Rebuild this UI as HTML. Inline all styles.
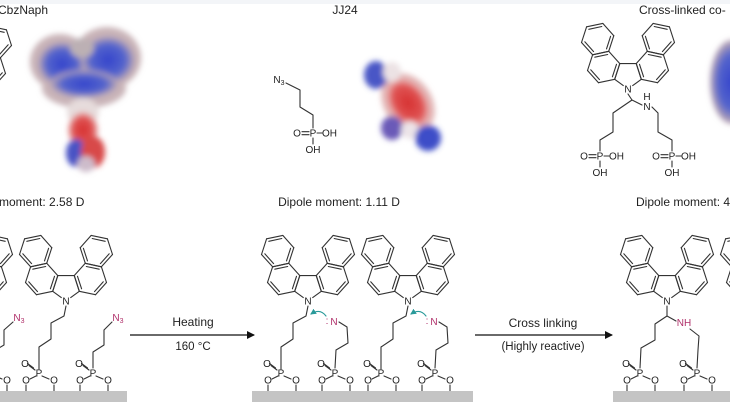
<!DOCTYPE html>
<html><head><meta charset="utf-8"><style>
html,body{margin:0;padding:0;background:#fff}
svg{display:block}
text{font-family:"Liberation Sans",sans-serif;fill:#222}
</style></head><body>
<svg id="s" width="730" height="410" viewBox="0 0 730 410" xmlns="http://www.w3.org/2000/svg">
<defs>
<filter id="bl" x="-30%" y="-30%" width="160%" height="160%"><feGaussianBlur stdDeviation="3"/></filter>
<radialGradient id="gb"><stop offset="0" stop-color="#3444cc"/><stop offset="0.65" stop-color="#5565cc"/><stop offset="1" stop-color="#c0aab2"/></radialGradient>
<radialGradient id="gr"><stop offset="0" stop-color="#d63030"/><stop offset="0.7" stop-color="#e05454"/><stop offset="1" stop-color="#e8bcbc"/></radialGradient>
<marker id="ah" markerWidth="8" markerHeight="8" refX="7" refY="4" orient="auto" markerUnits="userSpaceOnUse"><path d="M0,0 L8,4 L0,8 z" fill="#111"/></marker>
<marker id="th" markerWidth="6" markerHeight="6" refX="5" refY="3" orient="auto" markerUnits="userSpaceOnUse"><path d="M0,0 L6,3 L0,6 z" fill="#2a9a9a"/></marker>
</defs>
<rect x="0" y="0" width="730" height="4" fill="#f3f5f8"/>
<g filter="url(#bl)">
 <ellipse cx="60" cy="62" rx="30" ry="28" fill="#c9b4b8"/>
 <ellipse cx="107" cy="58" rx="34" ry="31" fill="#c9b4b8"/>
 <ellipse cx="84" cy="88" rx="42" ry="20" fill="#c9b4b8"/>
 <ellipse cx="62" cy="64" rx="24" ry="22" fill="url(#gb)"/>
 <ellipse cx="108" cy="60" rx="27" ry="24" fill="url(#gb)"/>
 <ellipse cx="84" cy="84" rx="34" ry="14" fill="url(#gb)"/>
 <ellipse cx="82" cy="48" rx="12" ry="10" fill="#bcb0b4"/>
 <ellipse cx="83" cy="112" rx="16" ry="14" fill="#e6dcdc"/>
 <ellipse cx="83" cy="130" rx="15" ry="18" fill="url(#gr)"/>
 <ellipse cx="76" cy="153" rx="10" ry="14" fill="#4a52c4"/>
 <ellipse cx="93" cy="152" rx="12" ry="16" fill="#d84848"/>
 <ellipse cx="86" cy="164" rx="9" ry="8" fill="#cdbccb"/>

 <ellipse cx="408" cy="103" rx="24" ry="32" transform="rotate(-35 408 103)" fill="#e2b6b6"/>
 <ellipse cx="408" cy="103" rx="19" ry="27" transform="rotate(-35 408 103)" fill="url(#gr)"/>
 <ellipse cx="376" cy="75" rx="12" ry="14" fill="#4a56c6"/>
 <ellipse cx="392" cy="72" rx="9" ry="10" fill="#ece2e4"/>
 <ellipse cx="392" cy="128" rx="11" ry="12" fill="#6a5ab8"/>
 <ellipse cx="410" cy="130" rx="9" ry="9" fill="#ece4e8"/>
 <ellipse cx="428" cy="138" rx="13" ry="13" fill="#3e4ec8"/>

 <ellipse cx="732" cy="82" rx="22" ry="42" fill="url(#gb)"/>
</g>
<g id="mols" stroke="#333" stroke-width="1.1" fill="none" stroke-linecap="round" stroke-linejoin="round"></g>
<rect x="0" y="391" width="127" height="11" fill="#c4c4c4"/>
<rect x="252" y="391" width="221" height="11" fill="#c4c4c4"/>
<rect x="613" y="391" width="117" height="11" fill="#c4c4c4"/>
<line x1="130" y1="335" x2="254" y2="335" stroke="#111" stroke-width="1.2" marker-end="url(#ah)"/>
<line x1="475" y1="335" x2="612" y2="335" stroke="#111" stroke-width="1.2" marker-end="url(#ah)"/>
<text x="193" y="326" font-size="12" text-anchor="middle">Heating</text>
<text x="193" y="350" font-size="11.5" text-anchor="middle">160 °C</text>
<text x="543" y="327" font-size="12" text-anchor="middle">Cross linking</text>
<text x="543" y="350" font-size="11.5" text-anchor="middle">(Highly reactive)</text>
<text x="-2" y="14" font-size="12">CbzNaph</text>
<text x="345" y="14" font-size="12" text-anchor="middle">JJ24</text>
<text x="639" y="14" font-size="12">Cross-linked co-</text>
<text x="-1" y="206" font-size="12">moment: 2.58 D</text>
<text x="339" y="206" font-size="12" text-anchor="middle">Dipole moment: 1.11 D</text>
<text x="636" y="206" font-size="12">Dipole moment: 4</text>
<g id="labels" font-size="10"></g>
</svg>
<script>
const M=[],L=[];
function ln(a,b,c,d,col){M.push(`<line x1="${a.toFixed(1)}" y1="${b.toFixed(1)}" x2="${c.toFixed(1)}" y2="${d.toFixed(1)}"${col?` stroke="${col}"`:''}/>`);}
function pl(pts,col){M.push(`<polyline points="${pts.map(p=>p.join(',')).join(' ')}"${col?` stroke="${col}"`:''}/>`);}
function tx(x,y,s,opt){L.push(`<text x="${x}" y="${y}" text-anchor="${(opt&&opt.a)||'middle'}" ${(opt&&opt.c)?`style="fill:${opt.c}"`:''} font-size="${(opt&&opt.fs)||10}">${s}</text>`);}
function mol(nx,ny,b){
  const pent=[[0,0],[0.809,-0.588],[0.5,-1.539],[-0.5,-1.539],[-0.809,-0.588]];
  const P=pent.map(p=>[nx+p[0]*b,ny+p[1]*b]);
  const g=0.35;
  ln(P[0][0]+(P[1][0]-P[0][0])*g,P[0][1]+(P[1][1]-P[0][1])*g,P[1][0],P[1][1]);
  ln(P[1][0],P[1][1],P[2][0],P[2][1]);ln(P[2][0],P[2][1],P[3][0],P[3][1]);ln(P[3][0],P[3][1],P[4][0],P[4][1]);
  ln(P[0][0]+(P[4][0]-P[0][0])*g,P[0][1]+(P[4][1]-P[0][1])*g,P[4][0],P[4][1]);
  tx(nx,ny+3.5,'N');
  for(const s of [1,-1]){
    for(const [cx,cy,dbl] of [[1.478,-1.331,[0,2,4]],[1.838,-3.025,[2,4,0]]]){
      const C=[nx+s*cx*b,ny+cy*b];
      const V=[];
      for(let k=0;k<6;k++){const a=(12+60*k)*Math.PI/180;V.push([C[0]+s*Math.cos(a)*b,C[1]+Math.sin(a)*b]);}
      for(let k=0;k<6;k++){const p=V[k],q=V[(k+1)%6];ln(p[0],p[1],q[0],q[1]);}
      for(const k of dbl){const p=V[k],q=V[(k+1)%6];const f=0.2;
        ln(p[0]+(C[0]-p[0])*f,p[1]+(C[1]-p[1])*f,q[0]+(C[0]-q[0])*f,q[1]+(C[1]-q[1])*f);}
    }
  }
}
function anchor(px,py){
  tx(px,py+3.5,'P');
  ln(px-4,py-3,px-10,py-7.5);ln(px-5.5,py-5,px-11.5,py-9.5);
  tx(px-14,py-6,'O');
  ln(px-3,py+3,px-9,py+6);tx(px-13,py+10.5,'O');
  ln(px+3,py+3,px+10,py+6);tx(px+15,py+10.5,'O');
  ln(px-13,py+12,px-13,391);ln(px+15,py+12,px+15,391);
}
function acid(px,py){
  tx(px,py+3.5,'P');tx(px-16,py+3.5,'O');tx(px+9,py+3.5,'OH',{a:'start'});
  ln(px-11,py-1.3,px-4,py-1.3);ln(px-11,py+1.7,px-4,py+1.7);
  ln(px+4,py,px+9,py);
  ln(px,py+5,px,py+11);tx(px,py+20,'OH');
}
function N3(x,y,c){L.push(`<text x="${x}" y="${y}" font-size="10" text-anchor="middle" style="fill:${c}">N<tspan font-size="7" dy="2">3</tspan></text>`);}
const B=16.5, PK='#b0306a';
function carbArm(nx,ny){pl([[nx,ny+5],[nx-2,ny+15],[nx-15,ny+22],[nx-15,ny+38],[nx-27,ny+46],[nx-27,ny+68]]);}
mol(-35,92,B); ln(-35,97,-37,112);
N3(279,83,'#222');
pl([[286,83],[300,90],[300,107],[313,115],[313,128]]);
acid(313,133);
mol(628,89,B);
pl([[628,94],[632,100],[613,113],[613,132],[600,140],[600,151]]);
pl([[632,100],[642,105]]);
tx(647,110,'N');tx(647,100,'H');
pl([[652,107],[658,113],[658,132],[672,140],[672,151]]);
acid(600,156);acid(672,156);
mol(-34,301,B);
mol(66,301,B); carbArm(66,301); anchor(39,373);
N3(19,321,PK); pl([[13,322],[4,330],[4,345],[-8,352],[-8,368]]); anchor(-8,373);
N3(118,321,PK); pl([[112,322],[104,330],[104,345],[93,352],[93,368]]); anchor(93,373);
for(const dx of [0,100]){
  const nx=308+dx;
  mol(nx,301,B); carbArm(nx,301); anchor(nx-27,373);
  tx(nx+26,325,'N',{c:PK}); tx(nx+19,324,':',{c:PK});
  pl([[nx+31,322],[nx+39,327],[nx+40,343],[nx+28,350],[nx+27,368]]);
  anchor(nx+27,373);
  M.push(`<path d="M ${nx+18} 316 Q ${nx+12} 308 ${nx+3} 314" stroke="#2a9a9a" marker-end="url(#th)"/>`);
}
mol(667,301,B); mol(767,301,B);
pl([[667,306],[667,316],[655,324],[655,340],[641,348],[640,368]]);anchor(640,373);
ln(667,316,676,321); tx(684,326,'NH',{c:PK});
pl([[690,329],[699,336],[698,350],[697,368]]);anchor(697,373);
pl([[767,306],[765,316],[752,323],[752,338]]);
document.getElementById('mols').innerHTML=M.join('');
document.getElementById('labels').innerHTML=L.join('');
</script>
</body></html>
